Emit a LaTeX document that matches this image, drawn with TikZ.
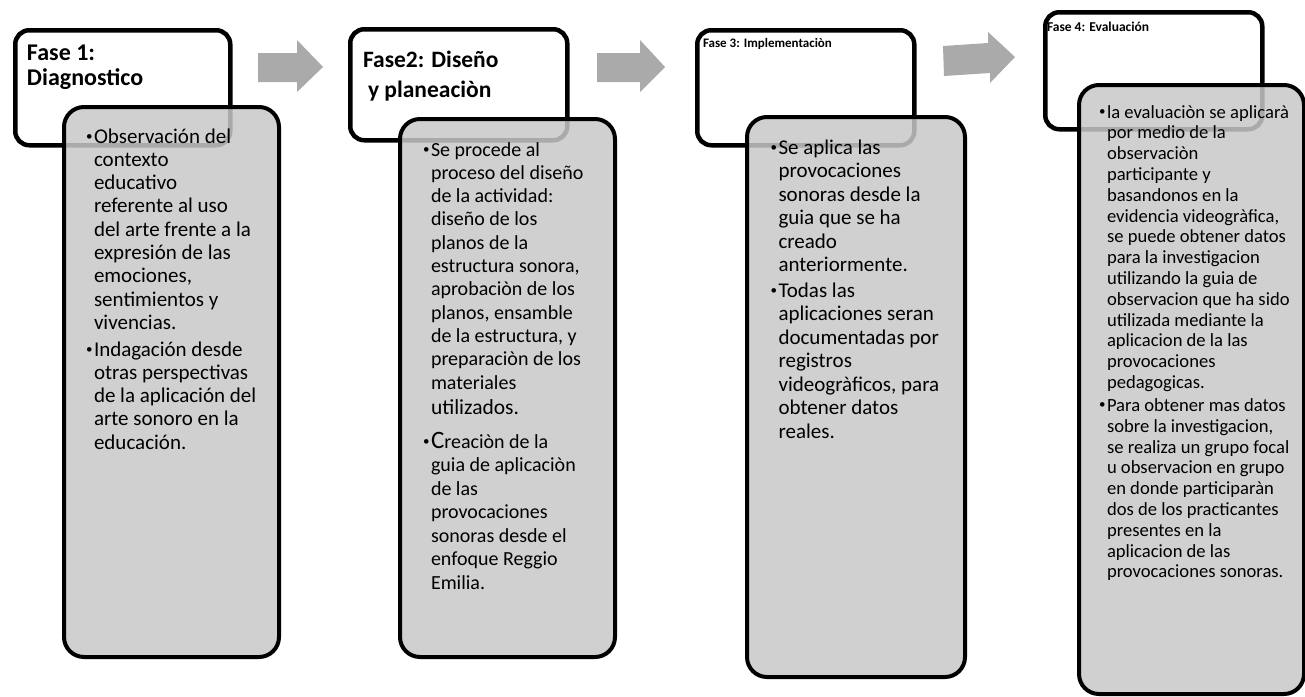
\documentclass[tikz,border=0pt]{standalone}
\usepackage{fontspec}
\setmainfont{Carlito}
\definecolor{bodyfill}{RGB}{200,200,200}
\definecolor{arrowgray}{RGB}{170,170,170}
\newcommand{\bulmark}{\raisebox{3pt}{\fontsize{13}{13}\selectfont•}\hspace{1.5pt}}
\newcommand{\blist}[4]{\parbox[t]{400pt}{\fontsize{#1}{#2}\selectfont\hangindent=#3\hangafter=1\noindent\makebox[#3][r]{\bulmark}#4}}
\tikzset{
  hdr/.style={draw=black, line width=4.5pt, fill=white, rounded corners=14pt, anchor=north west, inner sep=0pt},
  bodybox/.style={draw=black, line width=4pt, fill=bodyfill, fill opacity=0.85, rounded corners=20pt, anchor=north west, inner sep=0pt},
  blockarrow/.style={fill=arrowgray, draw=none},
  txt/.style={anchor=base west, inner sep=0pt, outer sep=0pt},
  htxt/.style={txt, font=\bfseries},
}
\begin{document}
\begin{tikzpicture}[x=1pt,y=-1pt]
\clip (0,0) rectangle (1305,696);
\fill[white] (0,0) rectangle (1305,696);

% block arrows
\fill[blockarrow] (258,53) -- (297,53) -- (297,40) -- (323,67) -- (297,92) -- (297,82) -- (258,82) -- cycle;
\fill[blockarrow] (597,53) -- (640,53) -- (640,40) -- (665,67) -- (640,92) -- (640,82) -- (597,82) -- cycle;
\fill[blockarrow] (943,46) -- (988,43) -- (988,32) -- (1015,57) -- (990,83) -- (990,73) -- (944,76) -- cycle;

% phase 1
\node[hdr, minimum width=215pt, minimum height=115pt] (h1) at (13,28) {};
\node[bodybox, minimum width=215pt, minimum height=550pt] (b1) at (62,105) {};
\node[htxt] (t1) at (27,60) {\fontsize{24}{25}\selectfont\parbox[t]{200pt}{Fase 1:\\Diagnostico}};
\node[txt] (p1a) at (88,143) {\blist{21}{23.3}{6pt}{Observación del\\contexto\\educativo\\referente al uso\\del arte frente a la\\expresión de las\\emociones,\\sentimientos y\\vivencias.}};
\node[txt] (p1b) at (88,356) {\blist{21}{23.3}{6pt}{Indagación desde\\otras perspectivas\\de la aplicación del\\arte sonoro en la\\educación.}};

% phase 2
\node[hdr, minimum width=217pt, minimum height=111pt] (h2) at (348,27) {};
\node[bodybox, minimum width=215pt, minimum height=538pt] (b2) at (398,117) {};
\node[htxt] (t2) at (363,67) {\fontsize{23.5}{30}\selectfont\parbox[t]{200pt}{Fase2: Diseño\\\hspace*{5pt}y planeaciòn}};
\node[txt] (p2a) at (425,156) {\blist{20}{23.3}{6pt}{Se procede al\\proceso del diseño\\de la actividad:\\diseño de los\\planos de la\\estructura sonora,\\aprobaciòn de los\\planos, ensamble\\de la estructura, y\\preparaciòn de los\\materiales\\[2.5pt]{\fontsize{21.5}{23.3}\selectfont utilizados.}}};
\node[txt] (p2b) at (425,448) {\blist{20}{23.5}{6pt}{{\fontsize{25}{23.5}\selectfont C}reaciòn de la\\guia de aplicaciòn\\de las\\provocaciones\\sonoras desde el\\enfoque Reggio\\Emilia.}};

% phase 3
\node[hdr, minimum width=217pt, minimum height=115pt] (h3) at (695,28) {};
\node[bodybox, minimum width=218pt, minimum height=560pt] (b3) at (745,115) {};
\node[htxt] (t3) at (703,47) {\fontsize{13}{15}\selectfont Fase 3: Implementaciòn};
\node[txt] (p3a) at (772,154) {\blist{21}{23.5}{6.5pt}{Se aplica las\\provocaciones\\sonoras desde la\\guia que se ha\\creado\\anteriormente.}};
\node[txt] (p3b) at (772,297) {\blist{21}{23.5}{6.5pt}{Todas las\\aplicaciones seran\\documentadas por\\registros\\videogràficos, para\\obtener datos\\reales.}};

% phase 4
\node[hdr, minimum width=217pt, minimum height=117pt] (h4) at (1043,10) {};
\node[bodybox, minimum width=225pt, minimum height=609pt] (b4) at (1077,83) {};
\node[htxt] (t4) at (1047,31) {\fontsize{13.5}{15}\selectfont Fase 4: Evaluación};
\node[txt] (p4a) at (1099,118) {\blist{18.6}{20.8}{8pt}{la evaluaciòn se aplicarà\\por medio de la\\observaciòn\\participante y\\basandonos en la\\evidencia videogràfica,\\se puede obtener datos\\para la investigacion\\utilizando la guia de\\observacion que ha sido\\utilizada mediante la\\aplicacion de la las\\provocaciones\\pedagogicas.}};
\node[txt] (p4b) at (1099,411.5) {\blist{18.6}{20.8}{8pt}{Para obtener mas datos\\sobre la investigacion,\\se realiza un grupo focal\\u observacion en grupo\\en donde participaràn\\dos de los practicantes\\presentes en la\\aplicacion de las\\provocaciones sonoras.}};
\end{tikzpicture}
\end{document}
